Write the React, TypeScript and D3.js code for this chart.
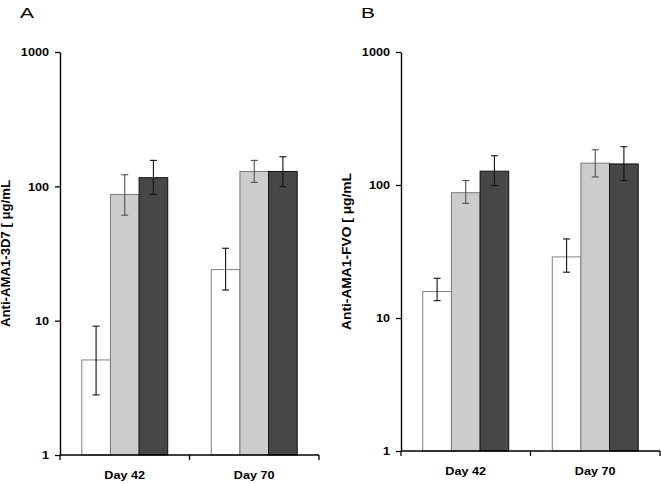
import React, { useEffect, useRef } from 'react';
import * as d3 from 'd3';

// groups on the x axis
const days = ['Day 42', 'Day 70'];
// three bar series per group
const series = ['s1', 's2', 's3'];
const yTicks = [1, 10, 100, 1000];

// Panel A: Anti-AMA1-3D7 (geometric means, lower and upper error)
const meanA = [[5.1, 87, 116], [24, 129, 129]];
const lowA = [[2.8, 61, 87], [16.9, 107, 99.5]];
const highA = [[9.1, 122, 156], [34.6, 156, 166]];

// Panel B: Anti-AMA1-FVO
const meanB = [[15.8, 87.5, 127], [28.8, 146, 144]];
const lowB = [[13.5, 72.8, 99], [22.1, 115, 108]];
const highB = [[19.9, 108, 166], [39.3, 184, 194]];

const fills = ['#ffffff', '#cccccc', '#474747'];
const strokes = ['#808080', '#7a7a7a', '#111111'];
const errColors = ['#111111', '#505050', '#111111'];

interface Panel {
  letter: string;
  title: string;
  titleLen: number;
  mean: number[][];
  low: number[][];
  high: number[][];
  x0: number;
  x1: number;
  yTop: number;
  yBottom: number;
}

const panels: Panel[] = [
  { letter: 'A', title: 'Anti-AMA1-3D7 [ μg/mL', titleLen: 147, mean: meanA, low: lowA, high: highA, x0: 60, x1: 319, yTop: 52, yBottom: 455 },
  { letter: 'B', title: 'Anti-AMA1-FVO [ μg/mL', titleLen: 157, mean: meanB, low: lowB, high: highB, x0: 401, x1: 660, yTop: 52, yBottom: 451 },
];

const App = () => {
  const ref = useRef<SVGSVGElement>(null);

  useEffect(() => {
    document.body.style.margin = '0';
    const svg = d3.select(ref.current);
    svg.selectAll('*').remove();
    const font = 'Arial, "Liberation Sans", sans-serif';

    panels.forEach(p => {
      const g = svg.append('g');
      const y = d3.scaleLog().domain([1, 1000]).range([p.yBottom, p.yTop]);
      const x = d3.scaleBand<string>().domain(days).range([p.x0, p.x1]).padding(0);
      const xs = d3.scaleBand<string>().domain(series).range([0, x.bandwidth()]).paddingInner(0).paddingOuter(0.76);

      // panel letter
      g.append('text')
        .attr('transform', `translate(${p.x0 - 40},17.5) scale(1.35,1)`)
        .attr('font-family', font)
        .attr('font-size', 15.5)
        .text(p.letter);

      // bars
      days.forEach((day, i) => {
        series.forEach((s, j) => {
          const bx = (x(day) || 0) + (xs(s) || 0);
          const bw = xs.bandwidth();
          const v = p.mean[i][j];
          g.append('rect')
            .attr('x', bx)
            .attr('y', y(v))
            .attr('width', bw)
            .attr('height', p.yBottom - y(v))
            .attr('fill', fills[j])
            .attr('stroke', strokes[j])
            .attr('stroke-width', 1);

          const cx = bx + bw / 2;
          const eg = g.append('g').attr('stroke', errColors[j]).attr('stroke-width', 1.1);
          eg.append('line').attr('x1', cx).attr('x2', cx).attr('y1', y(p.low[i][j])).attr('y2', y(p.high[i][j]));
          [p.low[i][j], p.high[i][j]].forEach(e => {
            eg.append('line').attr('x1', cx - 3.5).attr('x2', cx + 3.5).attr('y1', y(e)).attr('y2', y(e));
          });
        });
      });

      // y axis
      const ya = g.append('g')
        .attr('transform', `translate(${p.x0},0)`)
        .call(d3.axisLeft(y).tickValues(yTicks).tickSize(5).tickSizeOuter(0).tickFormat(d3.format('d')));
      ya.select('.domain').attr('stroke', '#000').attr('stroke-width', 1.4);
      ya.selectAll('line').attr('stroke', '#000').attr('stroke-width', 1.3);
      ya.selectAll<SVGTextElement, number>('text')
        .attr('x', 0)
        .attr('dy', null)
        .attr('dominant-baseline', 'central')
        .attr('transform', 'translate(-11,0) scale(1.15,1)')
        .attr('font-family', font)
        .attr('font-size', 11)
        .attr('font-weight', 'bold')
        .attr('fill', '#000');

      // x axis
      const xa = g.append('g').attr('transform', `translate(0,${p.yBottom})`);
      xa.append('line')
        .attr('x1', p.x0).attr('x2', p.x1)
        .attr('stroke', '#000').attr('stroke-width', 1.4);
      const bounds = [p.x0, ...days.map(d => (x(d) || 0) + x.bandwidth())];
      xa.selectAll('.tk').data(bounds).enter().append('line')
        .attr('x1', d => d).attr('x2', d => d).attr('y1', 0).attr('y2', 5)
        .attr('stroke', '#000').attr('stroke-width', 1.3);
      xa.selectAll('.lb').data(days).enter().append('text')
        .attr('transform', d => `translate(${(x(d) || 0) + x.bandwidth() / 2},${23.5}) scale(1.15,1)`)
        .attr('text-anchor', 'middle')
        .attr('font-family', font)
        .attr('font-size', 11)
        .attr('font-weight', 'bold')
        .text(d => d);

      // y axis title
      g.append('text')
        .attr('transform', `translate(${p.x0 - 50},${(p.yTop + p.yBottom) / 2}) rotate(-90)`)
        .attr('text-anchor', 'middle')
        .attr('font-family', font)
        .attr('font-size', 12.5)
        .attr('font-weight', 'bold')
        .attr('textLength', p.titleLen)
        .attr('lengthAdjust', 'spacingAndGlyphs')
        .text(p.title);
    });
  }, []);

  return <svg ref={ref} width={661} height={484} style={{ display: 'block', background: '#fff' }} />;
};

export default App;
